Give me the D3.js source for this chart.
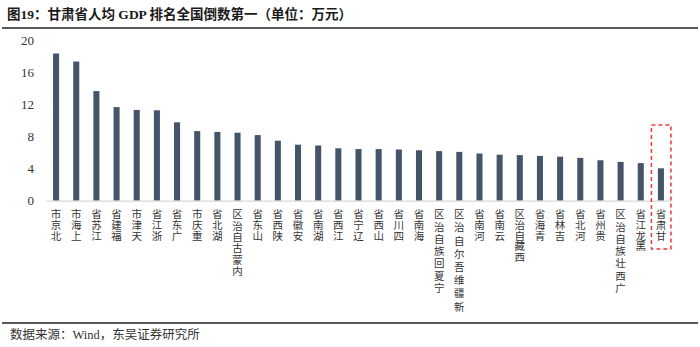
<!DOCTYPE html>
<html><head><meta charset="utf-8">
<script src="https://cdn.jsdelivr.net/npm/d3@7/dist/d3.min.js"></script>
<style>body{margin:0;background:#fff;}svg{display:block;}</style>
</head><body>
<svg id="c" width="700" height="347"></svg>
<script>
const categories = ["北京市","上海市","江苏省","福建省","天津市","浙江省","广东省","重庆市","湖北省","内蒙古自治区","山东省","陕西省","安徽省","湖南省","江西省","辽宁省","山西省","四川省","海南省","宁夏回族自治区","新疆维吾尔自治区","河南省","云南省","西藏自治区","青海省","吉林省","河北省","贵州省","广西壮族自治区","黑龙江省","甘肃省"];
const values = [18.4,17.4,13.7,11.7,11.35,11.3,9.8,8.7,8.6,8.5,8.2,7.5,7.0,6.9,6.55,6.45,6.45,6.4,6.3,6.2,6.1,5.9,5.75,5.7,5.6,5.5,5.35,5.05,4.85,4.7,4.05];
const yTicks = [0,4,8,12,16,20];
const highlight = "甘肃省";
const title = "图19：甘肃省人均 GDP 排名全国倒数第一（单位：万元）";
const source = "数据来源：Wind，东吴证券研究所";

const svg = d3.select("#c");
const cjk = "'Liberation Serif','Noto Sans CJK SC',serif";

svg.append("text").attr("x",7).attr("y",19).attr("font-family",cjk).attr("font-weight","bold")
  .attr("font-size",13.5).attr("fill","#1a1a1a").text(title);
svg.append("line").attr("x1",2).attr("x2",698).attr("y1",28).attr("y2",28).attr("stroke","#222").attr("stroke-width",1.6);

const x = d3.scaleBand().domain(categories).range([46,671]).paddingInner(0.7).paddingOuter(0.35);
const y = d3.scaleLinear().domain([0,20]).range([200.7,40.7]);

// y axis labels
const yAxis = d3.axisLeft(y).tickValues(yTicks).tickSize(0).tickPadding(0).tickFormat(d3.format("d"));
const ya = svg.append("g").attr("transform","translate(34,0)").call(yAxis);
ya.select(".domain").remove();
ya.selectAll("text").attr("font-family","'Liberation Serif',serif").attr("font-size",13).attr("fill","#333");

// bars
svg.append("g").selectAll("rect").data(categories).join("rect")
  .attr("x",d=>x(d)).attr("width",x.bandwidth())
  .attr("y",(d,i)=>y(values[i])).attr("height",(d,i)=>y(0)-y(values[i]))
  .attr("fill","#44546a");

// x axis line
const xAxis = d3.axisBottom(x).tickSize(0).tickFormat("");
const xa = svg.append("g").attr("transform",`translate(0,${y(0)})`).call(xAxis);
xa.select(".domain").attr("stroke","#d9d9d9").attr("stroke-width",1.2);

// vertical labels (read bottom-to-top, upright characters)
svg.append("g").selectAll("text").data(categories).join("text")
  .attr("x",d=>x(d)+x.bandwidth()/2).attr("y",209)
  .style("writing-mode","vertical-rl").style("text-orientation","upright")
  .attr("font-family","'Noto Sans CJK SC',sans-serif").attr("font-size",10.5)
  .attr("letter-spacing",d=>Math.max(0.2,(Array.from(d).length-5)*0.9)).attr("fill","#333")
  .text(d=>Array.from(d).reverse().join(""));

// highlight box
const hx = x(highlight)+x.bandwidth()/2;
svg.append("rect").attr("x",hx-9.5).attr("y",125).attr("width",19.5).attr("height",124)
  .attr("fill","none").attr("stroke","#e03c3c").attr("stroke-width",1.5).attr("stroke-dasharray","4,3");

// footer
svg.append("line").attr("x1",2).attr("x2",698).attr("y1",323).attr("y2",323).attr("stroke","#222").attr("stroke-width",1.4);
svg.append("text").attr("x",10).attr("y",339).attr("font-family",cjk)
  .attr("font-size",12.5).attr("fill","#333").text(source);
</script>
</body></html>
